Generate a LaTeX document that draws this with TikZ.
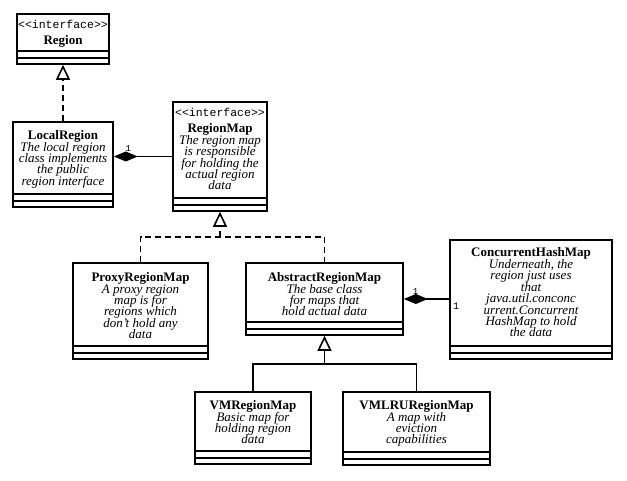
\documentclass[tikz,border=0pt]{standalone}
\usepackage{fontspec}
\setmainfont{Liberation Serif}
\newfontfamily\stereofont{Liberation Mono}
\usetikzlibrary{positioning, arrows.meta}
\newcommand\tightlines{\lineskiplimit=-20pt\relax\lineskip=0pt\relax}

\begin{document}
\begin{tikzpicture}[
    x=1pt, y=-1pt, line width=1.6pt,
    classbox/.style={draw=black, inner sep=0pt},
    classtext/.style={anchor=north, align=center, inner sep=0pt,
        font=\fontsize{13}{11.4}\selectfont\itshape\tightlines},
    realize/.style={dash pattern=on 6pt off 4pt, -{Triangle[open, length=15pt, width=14pt]}},
    inherit/.style={-{Triangle[open, length=15pt, width=14pt]}},
    compose/.style={{Diamond[length=24pt, width=10pt]}-},
    mult/.style={font=\stereofont\fontsize{9}{9}\selectfont, inner sep=1pt}
]
\useasboundingbox (0,0) rectangle (627,481);

% Classes
\node[classbox, minimum width=92pt, minimum height=50pt] (region) at (63,39) {};
\node[classbox, minimum width=100pt, minimum height=85pt] (local) at (63,164.5) {};
\node[classbox, minimum width=94pt, minimum height=109pt] (regmap) at (220,156.5) {};
\node[classbox, minimum width=135pt, minimum height=96pt] (proxy) at (140.5,311) {};
\node[classbox, minimum width=157pt, minimum height=72pt] (abstract) at (324.5,299) {};
\node[classbox, minimum width=162pt, minimum height=119pt] (chm) at (531,299.5) {};
\node[classbox, minimum width=116pt, minimum height=72pt] (vm) at (253,428) {};
\node[classbox, minimum width=147pt, minimum height=73pt] (vmlru) at (416.5,428.5) {};

% Compartments
\foreach \n in {region, local, regmap, proxy, abstract, chm, vm, vmlru} {
    \draw ([yshift=14pt]\n.south west) -- ([yshift=14pt]\n.south east);
    \draw ([yshift=7pt]\n.south west) -- ([yshift=7pt]\n.south east);
}

% Texts
\node[classtext] (region-t) at ([yshift=-6pt]region.north)
    {{\stereofont\upshape\fontsize{11.5}{13}\selectfont <<interface>>}\\[4.6pt]\textup{\textbf{Region}}};
\node[classtext] (local-t) at ([yshift=-8pt]local.north)
    {\textup{\textbf{LocalRegion}}\\[0.6pt]The local region\\class implements\\the public\\region interface};
\node[classtext] (regmap-t) at ([yshift=-6pt]regmap.north)
    {{\stereofont\upshape\fontsize{11.5}{13}\selectfont <<interface>>}\\[4.6pt]\textup{\textbf{RegionMap}}\\[0.6pt]The region map\\is responsible\\for holding the\\actual region\\data};
\node[classtext] (proxy-t) at ([yshift=-9pt]proxy.north)
    {\textup{\textbf{ProxyRegionMap}}\\[0.6pt]A proxy region\\map is for\\regions which\\don't hold any\\data};
\node[classtext] (abstract-t) at ([yshift=-9pt]abstract.north)
    {\textup{\textbf{AbstractRegionMap}}\\[0.6pt]The base class\\for maps that\\hold actual data};
\node[classtext] (chm-t) at ([yshift=-7.5pt]chm.north)
    {\textup{\textbf{ConcurrentHashMap}}\\[0.6pt]Underneath, the\\region just uses\\that\\java.util.conconc\\urrent.Concurrent\\HashMap to hold\\the data};
\node[classtext] (vm-t) at ([yshift=-8pt]vm.north)
    {\textup{\textbf{VMRegionMap}}\\[0.6pt]Basic map for\\holding region\\data};
\node[classtext] (vmlru-t) at ([yshift=-8pt]vmlru.north)
    {\textup{\textbf{VMLRURegionMap}}\\[0.6pt]A map with\\eviction\\capabilities};

% Junctions
\coordinate (j1) at ([yshift=-25pt]regmap.south);
\coordinate (j2) at ([yshift=-28pt]abstract.south);

% Relations
\draw[realize] (local.north) -- (region.south);
\draw[realize] (j1) -- (regmap.south);
\draw[dash pattern=on 6pt off 4pt] (proxy.north) |- (j1) -| (abstract.north);
\draw[inherit] (j2) -- (abstract.south);
\draw (vm.north) |- (j2) -| (vmlru.north);
\draw[compose] (local.east |- regmap.west) -- node[mult, pos=0.25, above=3pt] {1} (regmap.west);
\draw[compose] (abstract.east) -- node[mult, pos=0.26, above=3pt] {1} (abstract.east -| chm.west)
    node[mult, below right=2pt and 2pt, font=\stereofont\fontsize{10}{10}\selectfont] {1};

\end{tikzpicture}
\end{document}
